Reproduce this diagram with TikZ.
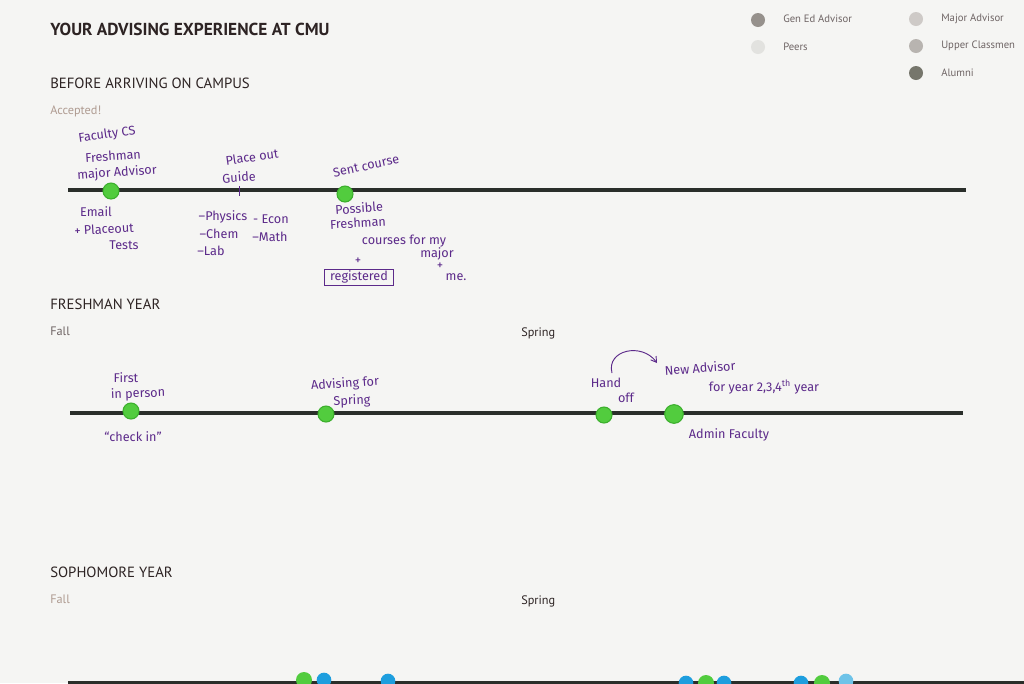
\documentclass[tikz,border=0pt]{standalone}
\usepackage{fontspec}
\setmainfont{PT Sans}
\newfontfamily\hand{Fira Sans}
\usetikzlibrary{arrows.meta}
\definecolor{paper}{RGB}{245,245,243}
\definecolor{ink}{RGB}{45,35,35}
\definecolor{soft}{RGB}{110,100,100}
\definecolor{pale}{RGB}{175,155,145}
\definecolor{pen}{RGB}{92,42,138}
\definecolor{rail}{RGB}{42,46,42}
\definecolor{mark}{RGB}{82,204,62}
\definecolor{markedge}{RGB}{60,175,45}
\definecolor{sky}{RGB}{30,158,222}
\definecolor{skylight}{RGB}{110,195,232}
\definecolor{gened}{RGB}{150,145,140}
\definecolor{peers}{RGB}{226,226,223}
\definecolor{major}{RGB}{206,202,199}
\definecolor{upper}{RGB}{184,180,176}
\definecolor{alumni}{RGB}{118,118,108}
\tikzset{
  title/.style={text=ink,anchor=west,inner sep=0pt,font=\bfseries\fontsize{13}{15}\selectfont},
  head/.style={text=ink,anchor=west,inner sep=0pt,font=\fontsize{11.1}{13}\selectfont},
  term/.style={anchor=west,inner sep=0pt,font=\fontsize{9.2}{10}\selectfont},
  legtext/.style={text=soft,anchor=west,inner sep=0pt,font=\fontsize{8}{9}\selectfont},
  legdot/.style={circle,inner sep=0pt,minimum size=10.5pt},
  note/.style={text=pen,inner sep=0pt,font=\hand\fontsize{9.5}{10}\selectfont},
  rule/.style={draw=rail,line width=2.6pt},
  pin/.style={circle,fill=mark,draw=markedge,line width=0.8pt,inner sep=0pt,minimum size=12pt},
  bigpin/.style={pin,minimum size=14pt},
  bluepin/.style={circle,fill=sky,inner sep=0pt,minimum size=11pt},
}
\begin{document}
\begin{tikzpicture}[x=0.75pt,y=-0.75pt]
\useasboundingbox (0,0) rectangle (1024,683);
\fill[paper] (0,0) rectangle (1024,683);
\begin{scope}
\clip (0,0) rectangle (1024,683);

% heading and legend
\node[title] (ttl) at (50,29) {YOUR ADVISING EXPERIENCE AT CMU};
\node[legdot,fill=gened]  (lg1) at (758,20) {};
\node[legtext] (lt1) at (783,19) {Gen Ed Advisor};
\node[legdot,fill=peers]  (lg2) at (758,47) {};
\node[legtext] (lt2) at (783,47) {Peers};
\node[legdot,fill=major]  (lg3) at (916,19) {};
\node[legtext] (lt3) at (941,19) {Major Advisor};
\node[legdot,fill=upper]  (lg4) at (916,46) {};
\node[legtext] (lt4) at (941,46) {Upper Classmen};
\node[legdot,fill=alumni] (lg5) at (916,73) {};
\node[legtext] (lt5) at (941,73) {Alumni};

% before arriving on campus
\node[head] (h1) at (50,83) {BEFORE ARRIVING ON CAMPUS};
\node[term,text=pale] (acc) at (50,111) {Accepted!};
\coordinate (r1a) at (68,190);
\coordinate (r1b) at (966,190);
\draw[rule] (r1a) -- (r1b);
\node[pin] (p1) at (111,191) {};
\node[pin] (p2) at (345,194) {};
\coordinate (tk1) at (239,186);
\coordinate (tk2) at (239,196);
\draw[pen,line width=0.6pt] (tk1) -- (tk2);

\node[note,rotate=8]  (n1) at (107,135) {Faculty CS};
\node[note,rotate=4]  (n2) at (113,156) {Freshman};
\node[note,rotate=4]  (n3) at (117,173) {major Advisor};
\node[note,rotate=8]  (n4) at (252,157) {Place out};
\node[note,rotate=4]  (n5) at (239,177) {Guide};
\node[note,rotate=12] (n6) at (366,166) {Sent course};
\node[note] (n7) at (96,212) {Email};
\node[note,rotate=3] (n8) at (104,229) {+ Placeout};
\node[note] (n9) at (124,245) {Tests};
\node[note] (n10) at (223,217) {–Physics};
\node[note] (n11) at (219,234) {–Chem};
\node[note] (n12) at (211,251) {–Lab};
\node[note] (n13) at (271,219) {- Econ};
\node[note] (n14) at (270,237) {–Math};
\node[note,rotate=4] (n15) at (359,208) {Possible};
\node[note,rotate=3] (n16) at (358,223) {Freshman};
\node[note] (n17) at (404,241) {courses for my};
\node[note] (n18) at (437,254) {major};
\node[note] (n19) at (440,266) {+};
\node[note] (n20) at (456,277) {me.};
\node[note] (n21) at (358,261) {+};
\node[note,draw=pen,line width=0.7pt,minimum width=52pt,minimum height=12pt] (n22) at (359,277) {registered};

% freshman year
\node[head] (h2) at (50,304) {FRESHMAN YEAR};
\node[term,text=soft] (f1) at (50,331) {Fall};
\node[term,text=ink] (s1) at (521,333) {Spring};
\coordinate (r2a) at (70,413);
\coordinate (r2b) at (963,413);
\draw[rule] (r2a) -- (r2b);
\node[pin] (p3) at (131,411) {};
\node[pin] (p4) at (326,414) {};
\node[pin] (p5) at (604,415) {};
\node[bigpin] (p6) at (674,414) {};

\node[note] (m1) at (126,378) {First};
\node[note,rotate=2] (m2) at (138,394) {in person};
\node[note,rotate=4] (m3) at (345,384) {Advising for};
\node[note,rotate=2] (m4) at (352,401) {Spring};
\node[note] (m5) at (133,437) {“check in”};
\node[note] (m6) at (606,383) {Hand};
\node[note] (m7) at (626,398) {off};
\node[note,rotate=4] (m8) at (700,368) {New Advisor};
\node[note] (m9) at (764,387) {for year 2,3,4\textsuperscript{th} year};
\node[note] (m10) at (729,435) {Admin Faculty};
\coordinate (ar1) at (612,373);
\coordinate (ar2) at (657,363);
\draw[pen,line width=0.7pt,-{Straight Barb[length=4pt,width=5pt]}] (ar1) .. controls (606,350) and (642,342) .. (ar2);

% sophomore year
\node[head] (h3) at (50,572) {SOPHOMORE YEAR};
\node[term,text=pale] (f2) at (50,599) {Fall};
\node[term,text=ink] (s2) at (521,601) {Spring};
\coordinate (r3a) at (68,683);
\coordinate (r3b) at (1024,683);
\draw[rule,line width=3pt] (r3a) -- (r3b);
\node[pin,draw=none] (q1) at (304,680) {};
\node[bluepin] (q2) at (324,680) {};
\node[bluepin] (q3) at (388,681) {};
\node[bluepin] (q4) at (686,683) {};
\node[pin,draw=none] (q5) at (706,683) {};
\node[bluepin] (q6) at (724,683) {};
\node[bluepin] (q7) at (801,683) {};
\node[pin,draw=none] (q8) at (822,683) {};
\node[bluepin,fill=skylight] (q9) at (846,681) {};
\end{scope}
\end{tikzpicture}
\end{document}
